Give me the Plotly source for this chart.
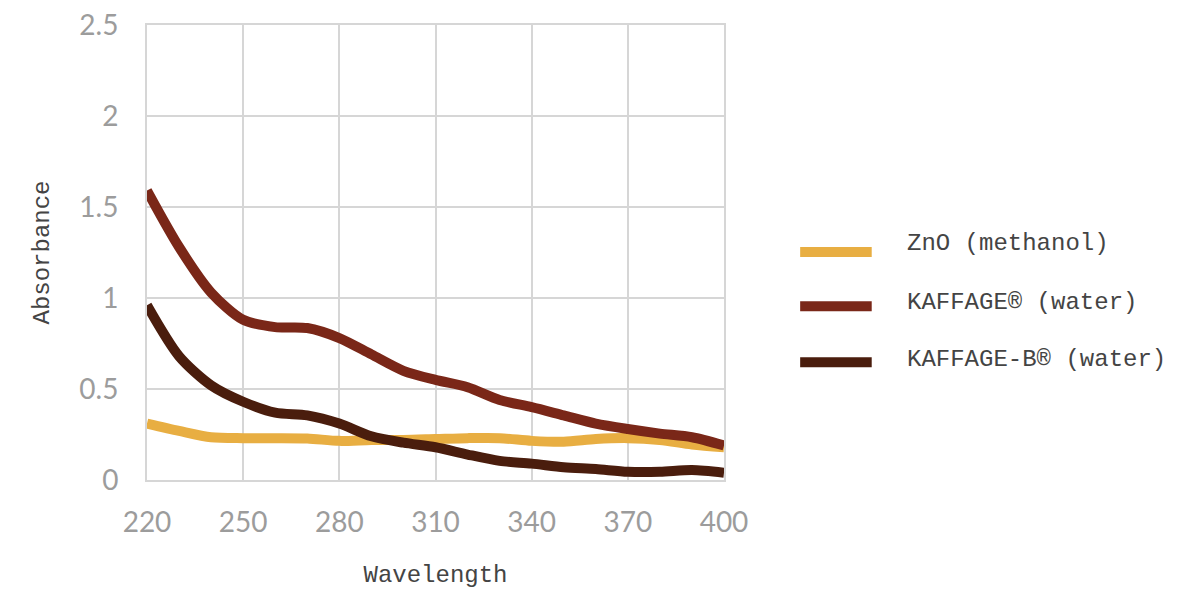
import plotly.graph_objects as go

wavelength = [220, 230, 240, 250, 260, 270, 280, 290, 300, 310, 320, 330, 340, 350, 360, 370, 380, 390, 400]
zno_methanol = [0.31, 0.27, 0.235, 0.23, 0.23, 0.228, 0.215, 0.22, 0.22, 0.225, 0.23, 0.23, 0.215, 0.21, 0.225, 0.23, 0.22, 0.195, 0.18]
kaffage_water = [1.59, 1.28, 1.03, 0.88, 0.84, 0.835, 0.78, 0.69, 0.60, 0.55, 0.51, 0.44, 0.40, 0.355, 0.31, 0.28, 0.255, 0.235, 0.19]
kaffage_b_water = [0.96, 0.68, 0.52, 0.43, 0.37, 0.355, 0.31, 0.24, 0.205, 0.18, 0.14, 0.105, 0.09, 0.07, 0.06, 0.045, 0.045, 0.055, 0.04]

series_names = ["ZnO (methanol)", "KAFFAGE\u00ae (water)", "KAFFAGE-B\u00ae (water)"]
series_values = [zno_methanol, kaffage_water, kaffage_b_water]
colors = ["#E8AE42", "#7A2718", "#4A1D0D"]

x_ticks = [220, 250, 280, 310, 340, 370, 400]
y_ticks = [0, 0.5, 1, 1.5, 2, 2.5]
y_tick_text = ["0", "0.5", "1", "1.5", "2", "2.5"]

fig = go.Figure()
for name, vals, col in zip(series_names, series_values, colors):
    fig.add_trace(go.Scatter(x=wavelength, y=vals, mode="lines", name=name,
                             line=dict(color=col, width=10, shape="spline", smoothing=0.8),
                             showlegend=False))

mono = "Liberation Mono, DejaVu Sans Mono, monospace"
grid = "#d6d6d6"

# manual legend
legend_y = [0.501, 0.382, 0.259]
text_y = [0.519, 0.391, 0.264]
for name, col, ly, ty in zip(series_names, colors, legend_y, text_y):
    fig.add_shape(type="line", xref="paper", yref="paper",
                  x0=1.132, x1=1.256, y0=ly, y1=ly,
                  line=dict(color=col, width=10))
    fig.add_annotation(xref="paper", yref="paper", x=1.313, y=ty,
                       text=name, showarrow=False, xanchor="left", yanchor="middle",
                       font=dict(family=mono, size=24, color="#444444"))

fig.update_layout(
    width=1184, height=581,
    margin=dict(l=139, r=468, t=17, b=109, autoexpand=False),
    paper_bgcolor="white", plot_bgcolor="white",
    xaxis=dict(range=[220, 400], tickvals=x_ticks, showgrid=True, gridcolor=grid, gridwidth=2,
               showline=True, linecolor=grid, linewidth=2, mirror=True, zeroline=False,
               automargin=False, ticklabeloverflow="allow",
               tickfont=dict(family="Lato", size=28, color="#9c9c9c"),
               ticks="", ticklabelstandoff=16,
               title=dict(text="Wavelength", font=dict(family=mono, size=24, color="#444444"), standoff=36)),
    yaxis=dict(range=[0, 2.5], tickvals=y_ticks, ticktext=y_tick_text, showgrid=True, gridcolor=grid, gridwidth=2,
               showline=True, linecolor=grid, linewidth=2, mirror=True, zeroline=False,
               automargin=False, ticklabeloverflow="allow",
               tickfont=dict(family="Lato", size=28, color="#9c9c9c"),
               ticks="", ticklabelstandoff=21,
               title=dict(text="Absorbance", font=dict(family=mono, size=24, color="#444444"), standoff=23)),
)

fig.write_html("out.html")
